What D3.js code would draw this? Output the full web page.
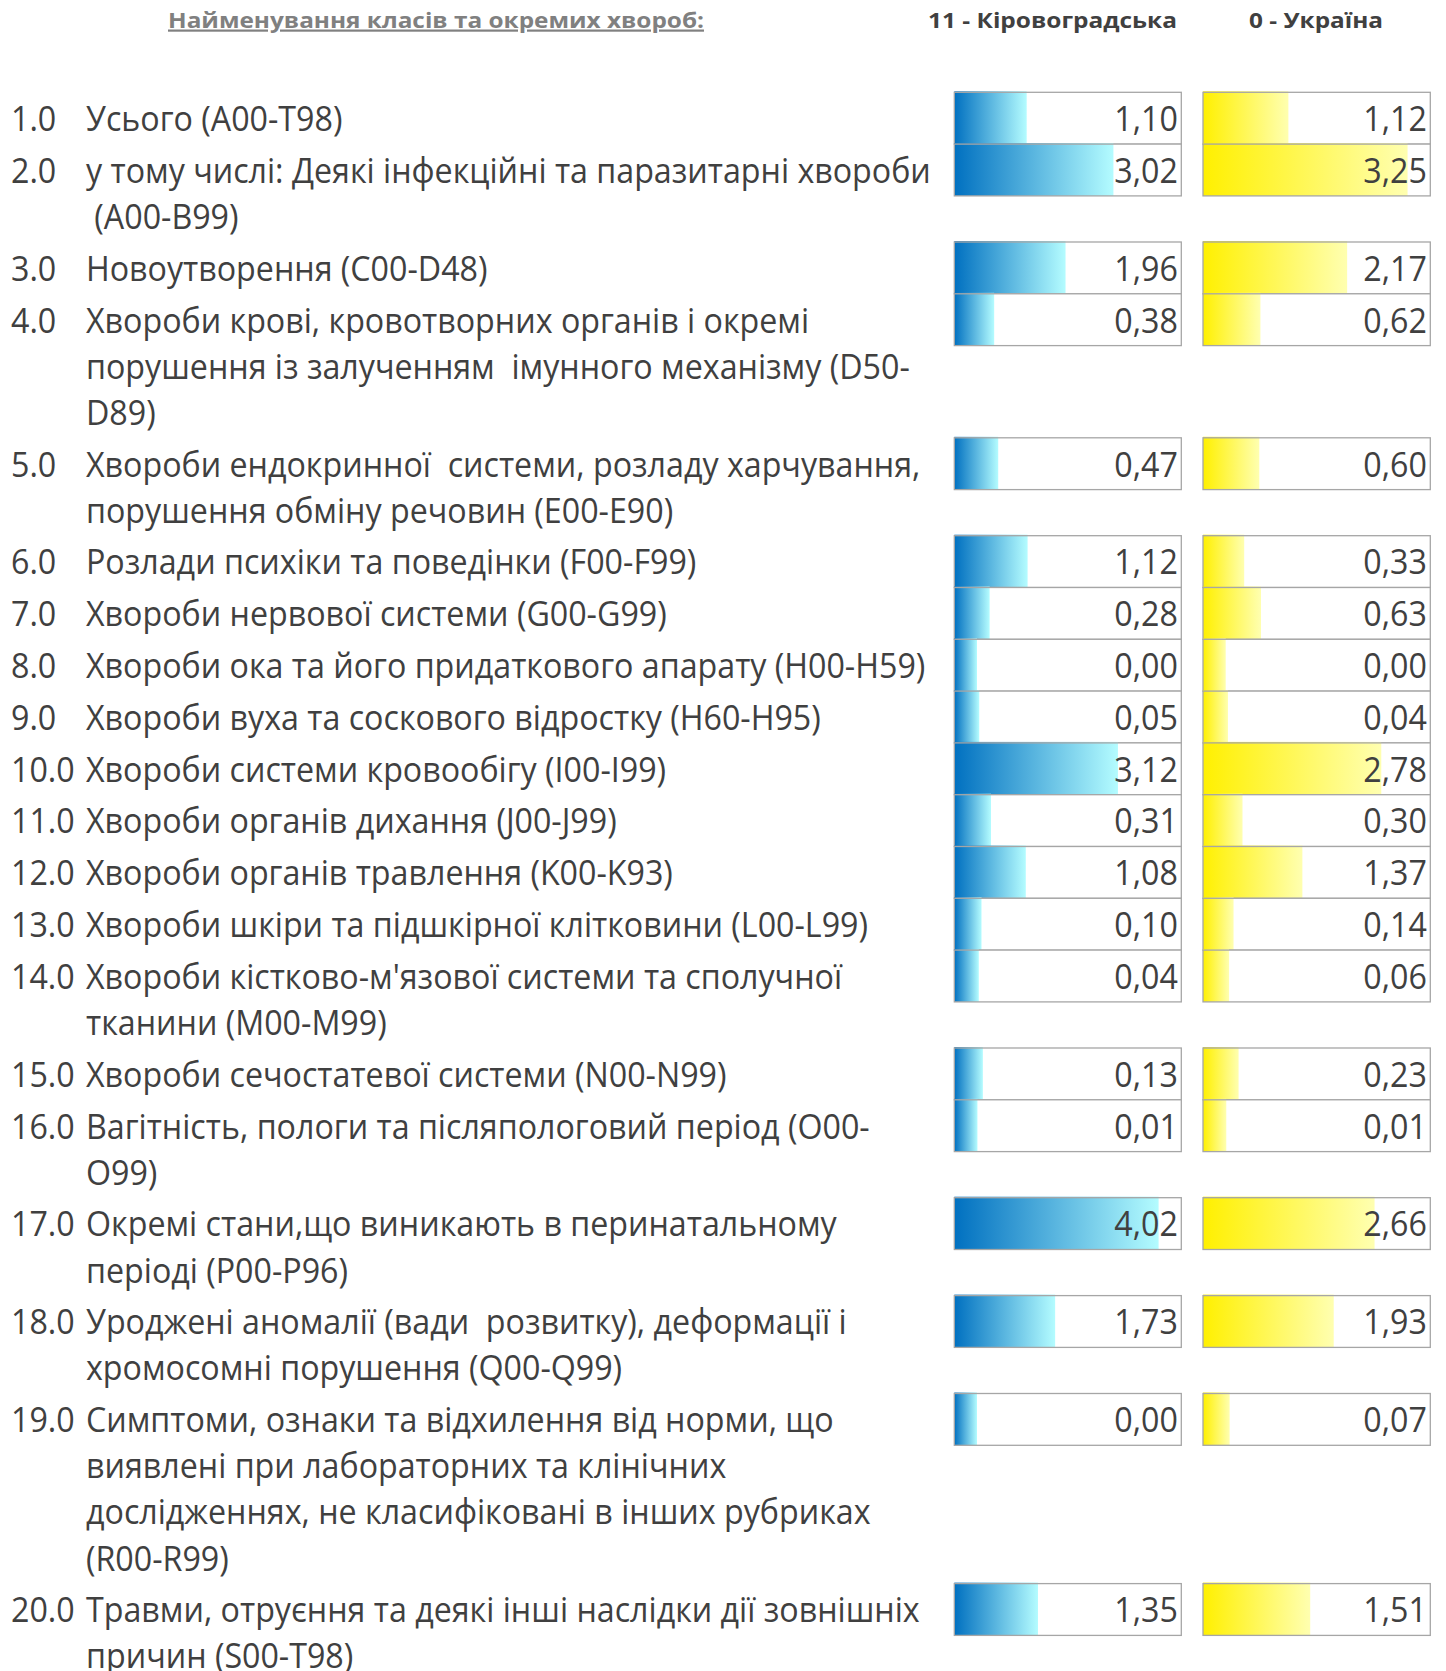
<!DOCTYPE html>
<html>
<head>
<meta charset="utf-8">
<script src="https://cdn.jsdelivr.net/npm/d3@7"></script>
<style>
  body { margin: 0; background: #fff; }
  text { font-family: "Open Sans", sans-serif; white-space: pre; }
</style>
</head>
<body>
<div id="chart"></div>
<script>
// class codes, label lines (wrapped as in the sheet) and values
var codes = ["1.0", "2.0", "3.0", "4.0", "5.0", "6.0", "7.0", "8.0", "9.0", "10.0",
  "11.0", "12.0", "13.0", "14.0", "15.0", "16.0", "17.0", "18.0", "19.0", "20.0"];

var labels = [
  ["Усього (A00-T98)"],
  ["у тому числі: Деякі інфекційні та паразитарні хвороби", " (A00-B99)"],
  ["Новоутворення (C00-D48)"],
  ["Хвороби крові, кровотворних органів і окремі", "порушення із залученням  імунного механізму (D50-", "D89)"],
  ["Хвороби ендокринної  системи, розладу харчування,", "порушення обміну речовин (E00-E90)"],
  ["Розлади психіки та поведінки (F00-F99)"],
  ["Хвороби нервової системи (G00-G99)"],
  ["Хвороби ока та його придаткового апарату (H00-H59)"],
  ["Хвороби вуха та соскового відростку (H60-H95)"],
  ["Хвороби системи кровообігу (I00-I99)"],
  ["Хвороби органів дихання (J00-J99)"],
  ["Хвороби органів травлення (K00-K93)"],
  ["Хвороби шкіри та підшкірної клітковини (L00-L99)"],
  ["Хвороби кістково-м'язової системи та сполучної", "тканини (M00-M99)"],
  ["Хвороби сечостатевої системи (N00-N99)"],
  ["Вагітність, пологи та післяпологовий період (O00-", "O99)"],
  ["Окремі стани,що виникають в перинатальному", "періоді (P00-P96)"],
  ["Уроджені аномалії (вади  розвитку), деформації і", "хромосомні порушення (Q00-Q99)"],
  ["Симптоми, ознаки та відхилення від норми, що", "виявлені при лабораторних та клінічних", "дослідженнях, не класифіковані в інших рубриках", "(R00-R99)"],
  ["Травми, отруєння та деякі інші наслідки дії зовнішніх", "причин (S00-T98)"]
];

var kirovohrad = [1.10, 3.02, 1.96, 0.38, 0.47, 1.12, 0.28, 0.00, 0.05, 3.12,
  0.31, 1.08, 0.10, 0.04, 0.13, 0.01, 4.02, 1.73, 0.00, 1.35];
var ukraine = [1.12, 3.25, 2.17, 0.62, 0.60, 0.33, 0.63, 0.00, 0.04, 2.78,
  0.30, 1.37, 0.14, 0.06, 0.23, 0.01, 2.66, 1.93, 0.07, 1.51];

var headers = ["Найменування класів та окремих хвороб:", "11 - Кіровоградська", "0 - Україна"];

var svgWidth = 1446;
var svgHeight = 1671;

var top0 = 92.3;       // top of first row
var firstLine = 51.8;  // height of a one-line row
var extraLine = 46.1;  // each extra wrapped line
var baseOff = 38.7;
var numX = 11;
var labelX = 86;
var fontSize = 35;

var svg = d3.select("#chart")
  .append("svg")
  .attr("width", svgWidth)
  .attr("height", svgHeight);

var defs = svg.append("defs");

var series = [
  { values: kirovohrad, x: 954.3, w: 227, c0: "#0070c0", c1: "#b4fcff", id: "gBlue" },
  { values: ukraine, x: 1203, w: 227.3, c0: "#fff000", c1: "#ffffb0", id: "gYellow" }
];

series.forEach(function(s) {
  var g = defs.append("linearGradient").attr("id", s.id);
  g.append("stop").attr("offset", "0%").attr("stop-color", s.c0);
  g.append("stop").attr("offset", "100%").attr("stop-color", s.c1);
  // excel data bars: 10%..90% of the cell
  s.scale = d3.scaleLinear()
    .domain([0, d3.max(s.values)])
    .range([0.1 * s.w, 0.9 * s.w]);
});

// row tops
var tops = [];
var y = top0;
labels.forEach(function(l) {
  tops.push(y);
  y += firstLine + extraLine * (l.length - 1);
});

// horizontal squeeze to mimic Calibri widths
var probe = svg.append("text")
  .attr("font-size", fontSize)
  .text(labels[1][0]);
var k = 845 / probe.node().getComputedTextLength();
probe.remove();

// headers
svg.append("text")
  .attr("x", 168).attr("y", 27.5)
  .attr("font-size", 22).attr("font-weight", "bold")
  .attr("fill", "#808080")
  .attr("textLength", 536).attr("lengthAdjust", "spacingAndGlyphs")
  .style("text-decoration", "underline")
  .text(headers[0]);

svg.append("text")
  .attr("x", 928).attr("y", 27.5)
  .attr("font-size", 22).attr("font-weight", "bold")
  .attr("fill", "#404040")
  .attr("textLength", 249).attr("lengthAdjust", "spacingAndGlyphs")
  .text(headers[1]);

svg.append("text")
  .attr("x", 1249).attr("y", 27.5)
  .attr("font-size", 22).attr("font-weight", "bold")
  .attr("fill", "#404040")
  .attr("textLength", 134).attr("lengthAdjust", "spacingAndGlyphs")
  .text(headers[2]);

var rows = svg.selectAll("g.row")
  .data(labels)
  .enter()
  .append("g")
  .attr("class", "row")
  .attr("transform", (d, i) => `translate(0, ${tops[i]})`);

rows.append("text")
  .attr("transform", `translate(${numX}, ${baseOff}) scale(${k}, 1)`)
  .attr("font-size", fontSize)
  .attr("fill", "#404040")
  .text((d, i) => codes[i]);

rows.each(function(d) {
  var row = d3.select(this);
  d.forEach(function(line, j) {
    row.append("text")
      .attr("transform", `translate(${labelX}, ${baseOff + j * extraLine}) scale(${k}, 1)`)
      .attr("font-size", fontSize)
      .attr("fill", "#404040")
      .text(line);
  });
});

series.forEach(function(s) {
  rows.append("rect")
    .attr("x", s.x)
    .attr("y", 0)
    .attr("width", s.w)
    .attr("height", firstLine)
    .attr("fill", "#fff");

  rows.append("rect")
    .attr("x", s.x)
    .attr("y", -1)
    .attr("width", (d, i) => s.scale(s.values[i]))
    .attr("height", firstLine + 1)
    .attr("fill", `url(#${s.id})`);

  rows.append("rect")
    .attr("x", s.x)
    .attr("y", 0)
    .attr("width", s.w)
    .attr("height", firstLine)
    .attr("fill", "none")
    .attr("stroke", "#a6a6a6")
    .attr("stroke-width", 1.3);

  rows.append("text")
    .attr("transform", `translate(${s.x + s.w - 3.5}, ${baseOff}) scale(${k}, 1)`)
    .attr("text-anchor", "end")
    .attr("font-size", fontSize)
    .attr("fill", "#404040")
    .text((d, i) => d3.format(".2f")(s.values[i]).replace(".", ","));
});
</script>
</body>
</html>
